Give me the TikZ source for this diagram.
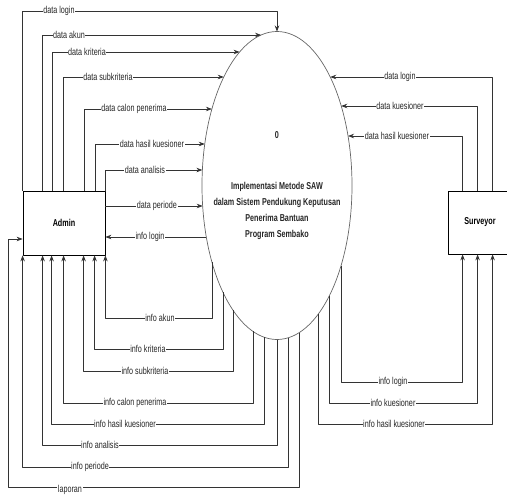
\documentclass[tikz,border=0pt]{standalone}
\usepackage{fontspec}
\setmainfont{Liberation Sans}[FakeStretch=0.72]
\usetikzlibrary{arrows.meta,shapes.geometric}
\tikzset{
  every picture/.style={line join=round, >={Stealth[length=6pt,width=4.5pt]}},
  flow/.style={->, draw=black!80, line width=0.7pt},
  lbl/.style={fill=white, inner sep=0.6pt, text=black!85, font=\fontsize{10}{11}\selectfont},
  entity/.style={draw=black, line width=0.8pt, inner sep=0pt, font=\bfseries\fontsize{10}{11}\selectfont},
  proc/.style={ellipse, draw=black!60, line width=0.7pt, minimum width=150pt, minimum height=308pt, inner sep=0pt, outer sep=0pt},
}

\begin{document}
\begin{tikzpicture}[x=1pt,y=-1pt,
  declare function={
    ewest(\t)=277-75*cos(asin((\t-185.5)/154));
    eeast(\t)=277+75*cos(asin((\t-185.5)/154));
    esouth(\t)=185.5+154*sin(acos((\t-277)/75));
  }]
\useasboundingbox (0,0) rectangle (507,496);
\node[entity, minimum width=82pt, minimum height=64pt] (admin) at (64,223) {Admin};
\node[entity, minimum width=64pt, minimum height=63pt] (surv) at (480,222.5) {Surveyor};
\node[proc] (ell) at (277,185.5) {};
\node[align=center, font=\bfseries\fontsize{10}{16}\selectfont, text=black!85] (ptext) at (ell.center)
  {0\\[35pt]Implementasi Metode SAW\\dalam Sistem Pendukung Keputusan\\Penerima Bantuan\\Program Sembako};

\draw[flow] (admin.north west) |- ([yshift=20.5]ell.north) -- (ell.north);
\draw[flow] ([xshift=20]admin.north west) |- ({ewest(35)},35);
\draw[flow] ([xshift=30]admin.north west) |- ({ewest(52)},52);
\draw[flow] ([xshift=41]admin.north west) |- ({ewest(77)},77);
\draw[flow] ([xshift=62]admin.north west) |- ({ewest(109)},109);
\draw[flow] ([xshift=73]admin.north west) |- ({ewest(144)},144);
\draw[flow] (admin.north east) |- ({ewest(170)},170);
\draw[flow] ([yshift=17]admin.east) -- ({ewest(206)},206);
\draw[flow] ({ewest(237)},237) -- ([yshift=-14]admin.east);

\draw[flow] (212,{esouth(212)}) -- (212,318) -| (admin.south east);
\draw[flow] (223,{esouth(223)}) -- (223,349) -| ([xshift=72]admin.south west);
\draw[flow] (233,{esouth(233)}) -- (233,371) -| ([xshift=61]admin.south west);
\draw[flow] (253,{esouth(253)}) -- (253,403) -| ([xshift=41]admin.south west);
\draw[flow] (264,{esouth(264)}) -- (264,424) -| ([xshift=29]admin.south west);
\draw[flow] (277,{esouth(277)}) -- (277,445) -| ([xshift=20]admin.south west);
\draw[flow] (288,{esouth(288)}) -- (288,467) -| (admin.south west);
\draw[flow] (299,{esouth(299)}) |- (8,487) |- ([yshift=-16]admin.west);

\draw[flow] ([xshift=45]surv.north west) |- ({eeast(77)},77);
\draw[flow] ([xshift=30]surv.north west) |- ({eeast(106)},106);
\draw[flow] ([xshift=15]surv.north west) |- ({eeast(136)},136);
\draw[flow] (341,{esouth(341)}) -- (341,382) -| ([xshift=15]surv.south west);
\draw[flow] (329,{esouth(329)}) -- (329,403) -| ([xshift=30]surv.south west);
\draw[flow] (318,{esouth(318)}) -- (318,424) -| ([xshift=45]surv.south west);

\node[lbl] (t-dlogin) at (59,11) {data login};
\node[lbl] (t-dakun) at (69,35) {data akun};
\node[lbl] (t-dkrit) at (87,52) {data kriteria};
\node[lbl] (t-dsub) at (108,77) {data subkriteria};
\node[lbl] (t-dcalon) at (134,109) {data calon penerima};
\node[lbl] (t-dhasil) at (152,144) {data hasil kuesioner};
\node[lbl] (t-danal) at (145,170) {data analisis};
\node[lbl] (t-dper) at (157,206) {data periode};
\node[lbl] (t-ilogin) at (150,237) {info login};
\node[lbl] (t-iakun) at (160,318) {info akun};
\node[lbl] (t-ikrit) at (148,349) {info kriteria};
\node[lbl] (t-isub) at (145,371) {info subkriteria};
\node[lbl] (t-icalon) at (135,403) {info calon penerima};
\node[lbl] (t-ihasil) at (125,424) {info hasil kuesioner};
\node[lbl] (t-ianal) at (100,445) {info analisis};
\node[lbl] (t-iper) at (90,467) {info periode};
\node[lbl] (t-lap) at (70,490) {laporan};
\node[lbl] (t-sdlogin) at (400,77) {data login};
\node[lbl] (t-sdkues) at (400,106) {data kuesioner};
\node[lbl] (t-sdhasil) at (397,136) {data hasil kuesioner};
\node[lbl] (t-silogin) at (393,382) {info login};
\node[lbl] (t-sikues) at (393,403) {info kuesioner};
\node[lbl] (t-sihasil) at (394,424) {info hasil kuesioner};
\end{tikzpicture}
\end{document}
